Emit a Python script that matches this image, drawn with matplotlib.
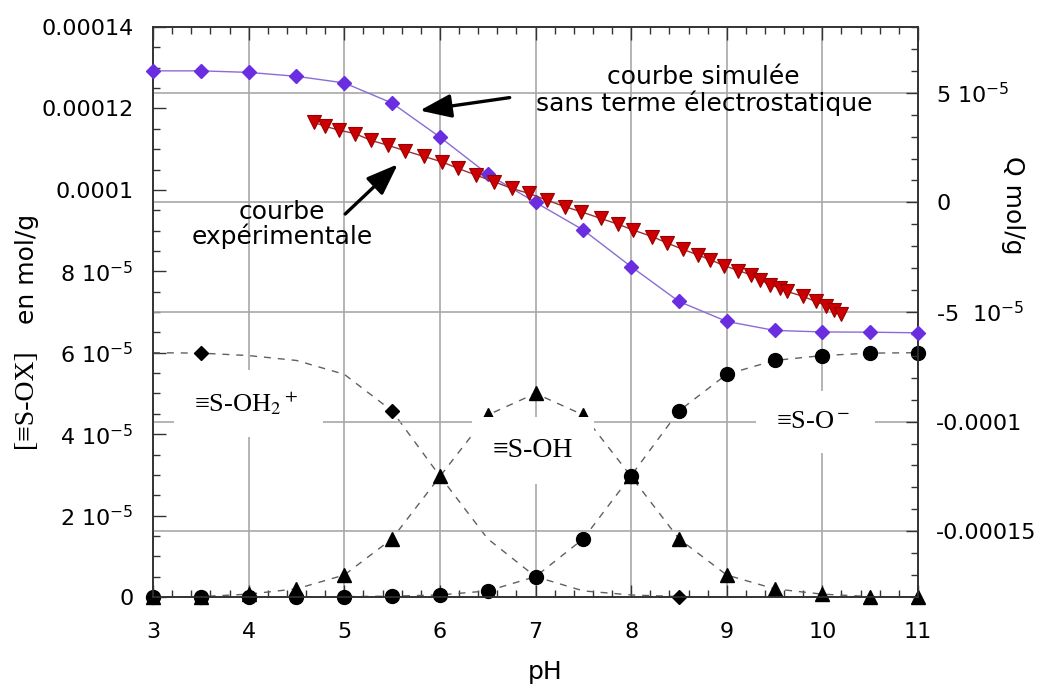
import matplotlib
matplotlib.use('Agg')
import matplotlib.pyplot as plt
from matplotlib.ticker import MultipleLocator, FixedLocator, FixedFormatter

plt.rcParams['font.family'] = ['DejaVu Sans']
plt.rcParams['mathtext.fontset'] = 'dejavusans'

# ---------------- data ----------------
# simulated surface charge (right axis), pH 3..11 step 0.5
ph_sim = [3.0, 3.5, 4.0, 4.5, 5.0, 5.5, 6.0, 6.5, 7.0, 7.5, 8.0, 8.5, 9.0, 9.5, 10.0, 10.5, 11.0]
q_sim = [6.00e-5, 6.00e-5, 5.93e-5, 5.75e-5, 5.45e-5, 4.53e-5, 2.98e-5, 1.29e-5, 0.0,
         -1.26e-5, -2.93e-5, -4.52e-5, -5.43e-5, -5.84e-5, -5.91e-5, -5.92e-5, -5.95e-5]

# experimental surface charge (right axis)
ph_exp = [4.68, 4.80, 4.95, 5.11, 5.28, 5.46, 5.64, 5.83, 6.02, 6.19, 6.38, 6.57, 6.75,
          6.93, 7.12, 7.31, 7.48, 7.68, 7.86, 8.02, 8.22, 8.38, 8.54, 8.70, 8.83, 8.97,
          9.12, 9.25, 9.35, 9.45, 9.56, 9.63, 9.80, 9.93, 10.04, 10.12, 10.20]
q_exp = [3.66e-5, 3.47e-5, 3.29e-5, 3.14e-5, 2.83e-5, 2.60e-5, 2.35e-5, 2.10e-5, 1.85e-5,
         1.55e-5, 1.24e-5, 0.94e-5, 0.64e-5, 0.41e-5, 0.10e-5, -0.20e-5, -0.43e-5,
         -0.73e-5, -0.99e-5, -1.26e-5, -1.56e-5, -1.86e-5, -2.14e-5, -2.40e-5, -2.62e-5,
         -2.88e-5, -3.11e-5, -3.30e-5, -3.53e-5, -3.76e-5, -3.91e-5, -4.06e-5, -4.29e-5,
         -4.52e-5, -4.71e-5, -4.93e-5, -5.08e-5]

# surface species (left axis), pH 3..11 step 0.5
ph_spec = [3.0, 3.5, 4.0, 4.5, 5.0, 5.5, 6.0, 6.5, 7.0, 7.5, 8.0, 8.5, 9.0, 9.5, 10.0, 10.5, 11.0]
s_oh2 = [6.00e-5, 5.99e-5, 5.93e-5, 5.81e-5, 5.47e-5, 4.57e-5, 2.97e-5, 1.43e-5, 0.50e-5,
         0.15e-5, 0.05e-5, 0.01e-5, 0.0, 0.0, 0.0, 0.0, 0.0]
s_oh = [0.0, 0.01e-5, 0.07e-5, 0.20e-5, 0.54e-5, 1.43e-5, 2.96e-5, 4.47e-5, 5.00e-5,
        4.47e-5, 2.96e-5, 1.43e-5, 0.54e-5, 0.20e-5, 0.07e-5, 0.01e-5, 0.0]
s_o = [0.0, 0.0, 0.0, 0.0, 0.01e-5, 0.02e-5, 0.05e-5, 0.15e-5, 0.50e-5, 1.43e-5, 2.98e-5,
       4.57e-5, 5.47e-5, 5.81e-5, 5.93e-5, 5.99e-5, 6.00e-5]
oh2_marker_idx = [1, 5, 11]

xticks = [3, 4, 5, 6, 7, 8, 9, 10, 11]
left_ticks = [0, 2e-5, 4e-5, 6e-5, 8e-5, 1e-4, 1.2e-4, 1.4e-4]
left_labels = ['0', '2 10$^{-5}$', '4 10$^{-5}$', '6 10$^{-5}$', '8 10$^{-5}$',
               '0.0001', '0.00012', '0.00014']
right_ticks = [-1.5e-4, -1e-4, -5e-5, 0, 5e-5]
right_labels = ['-0.00015', '-0.0001', '-5  10$^{-5}$', '0', '5 10$^{-5}$']

# ---------------- figure ----------------
W, H = 1060, 693
fig = plt.figure(figsize=(W / 100, H / 100), dpi=100)
fx = lambda px: px / W
fy = lambda py: 1 - py / H

ax = fig.add_axes([fx(153), fy(597), fx(918) - fx(153), fy(27) - fy(597)])
ax2 = ax.twinx()

ax.set_xlim(3, 11)
ax.set_ylim(0, 1.4e-4)
ax2.set_ylim(-1.8e-4, 0.8e-4)

spine_c = '#333333'
for a in (ax, ax2):
    for s in a.spines.values():
        s.set_color(spine_c)
        s.set_linewidth(1.2)

# ticks
ax.xaxis.set_major_locator(FixedLocator(xticks))
ax.set_xticklabels([str(t) for t in xticks])
ax.xaxis.set_minor_locator(MultipleLocator(0.2))
ax.yaxis.set_major_locator(FixedLocator(left_ticks))
ax.yaxis.set_major_formatter(FixedFormatter(left_labels))
ax.yaxis.set_minor_locator(MultipleLocator(0.5e-5))
ax2.yaxis.set_major_locator(FixedLocator(right_ticks))
ax2.yaxis.set_major_formatter(FixedFormatter(right_labels))
ax2.yaxis.set_minor_locator(MultipleLocator(1e-5))

ax.tick_params(axis='x', which='both', direction='in', top=True, bottom=True,
               color=spine_c, labelsize=16, pad=18)
ax.tick_params(axis='x', which='major', length=9, width=1)
ax.tick_params(axis='x', which='minor', length=5, width=1)
ax.tick_params(axis='y', which='both', direction='in', left=True, right=False,
               color=spine_c, labelsize=16, pad=14)
ax.tick_params(axis='y', which='major', length=9, width=1)
ax.tick_params(axis='y', which='minor', length=5, width=1)
ax2.tick_params(axis='y', which='both', direction='in', right=True, left=False,
                color=spine_c, labelsize=16, pad=13)
ax2.tick_params(axis='y', which='major', length=9, width=1)
ax2.tick_params(axis='y', which='minor', length=5, width=1)

# grid
grid_c = '#a8a8a8'
ax.grid(axis='x', which='major', color=grid_c, lw=1.2)
ax.grid(axis='y', visible=False)
ax2.grid(axis='y', which='major', color=grid_c, lw=1.2, zorder=0)
ax.set_axisbelow(True)
ax2.set_axisbelow(True)

# species curves (left axis)
dash = (0, (5, 5))
line_c = '#606060'
ax.plot(ph_spec, s_oh2, ls=dash, color=line_c, lw=1, zorder=2)
ax.plot(ph_spec, s_oh, ls=dash, color=line_c, lw=1, zorder=2)
ax.plot(ph_spec, s_o, ls=dash, color=line_c, lw=1, zorder=2)
ax.plot([ph_spec[i] for i in oh2_marker_idx], [s_oh2[i] for i in oh2_marker_idx],
        ls='none', marker='D', ms=7, color='black', clip_on=False, zorder=3)
ax.plot(ph_spec, s_oh, ls='none', marker='^', ms=10, color='black', clip_on=False, zorder=3)
ax.plot(ph_spec, s_o, ls='none', marker='o', ms=10, color='black', clip_on=False, zorder=4)

# charge curves (right axis)
ax2.plot(ph_sim, q_sim, color='#8a6cd6', lw=1.0, marker='D', ms=7.5,
         mfc='#6a2ee0', mec='#6a2ee0', clip_on=False, zorder=3)
ax2.plot(ph_exp, q_exp, color='#a03030', lw=1.0, marker='v', ms=10,
         mfc='#cc0000', mec='#990000', mew=0.8, clip_on=False, zorder=4)

# annotations
ax2.text(8.76, 5.10e-5, 'courbe simulée\nsans terme électrostatique', ha='center',
         va='center', fontsize=18, linespacing=1.05, zorder=6)
ax2.text(4.35, -1.0e-5, 'courbe\nexpérimentale', ha='center', va='center',
         fontsize=18, linespacing=0.95, zorder=6)
arrow_kw = dict(arrowstyle='-|>,head_length=1.2,head_width=0.45', lw=2.4,
                color='black', mutation_scale=16, shrinkA=0, shrinkB=0)
ax2.annotate('', xy=(5.79, 4.19e-5), xytext=(6.73, 4.78e-5), arrowprops=arrow_kw, zorder=6)
ax2.annotate('', xy=(5.56, 1.74e-5), xytext=(5.01, -0.53e-5), arrowprops=arrow_kw, zorder=6)

serif = ['Liberation Serif', 'DejaVu Serif']
box = dict(boxstyle='square,pad=0.75', fc='white', ec='none')
ax2.text(4.0, 4.55e-5, '≡S-OH$_2$$^+$ ', transform=ax.transData, ha='center',
         va='baseline', fontsize=19, family=serif, math_fontfamily='stix', bbox=box, zorder=10)
ax2.text(6.97, 3.44e-5, '≡S-OH', transform=ax.transData, ha='center',
         va='baseline', fontsize=20, family=serif, bbox=box, zorder=10)
ax2.text(9.93, 4.15e-5, '≡S-O$^-$ ', transform=ax.transData, ha='center',
         va='baseline', fontsize=19, family=serif, math_fontfamily='stix', bbox=box, zorder=10)

# axis labels
fig.text(fx(27), fy(269), 'en mol/g', rotation=90, ha='center', va='center', fontsize=18)
fig.text(fx(25), fy(399), '[≡S-OX]', rotation=90, ha='center', va='center', fontsize=20,
         family=serif)
fig.text(fx(1013), fy(205), 'Q mol/g', rotation=270, ha='center', va='center', fontsize=18)
fig.text(fx(545), fy(672), 'pH', ha='center', va='center', fontsize=18)

fig.savefig('out.png', dpi=100)
